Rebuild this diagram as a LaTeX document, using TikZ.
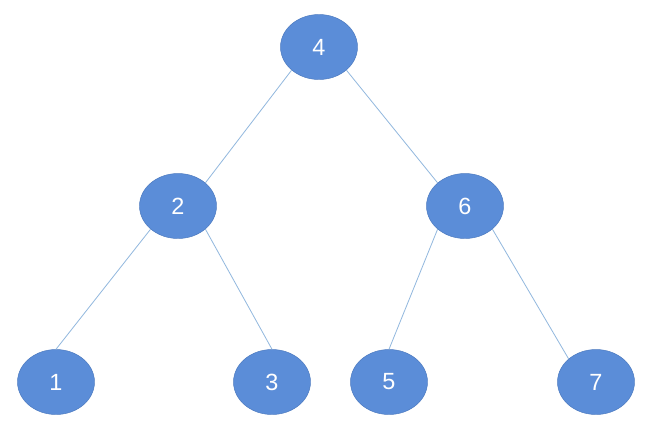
\documentclass[tikz,border=0pt]{standalone}
\usepackage{fontspec}
\setmainfont{Liberation Sans}
\usepackage{tikz}
\usetikzlibrary{shapes.geometric}
\definecolor{nodecolor}{HTML}{5B8DD8}
\definecolor{rimcolor}{HTML}{4A78BE}
\definecolor{edgecolor}{HTML}{93B8DE}

\begin{document}
\begin{tikzpicture}[
    x=0.03cm, y=-0.03cm,
    tnode/.style={ellipse, draw=rimcolor, fill=nodecolor, thin, minimum width=2.31cm, minimum height=1.95cm, inner sep=0pt, font=\fontsize{20}{24}\selectfont, text=white},
    tedge/.style={draw=edgecolor, line width=0.7pt}
]
\useasboundingbox (0,0) rectangle (648,438);

% -- ROOT --
\node[tnode] (n4) at (319,47) {4};

% -- LEVEL 1 --
\node[tnode] (n2) at (178,206) {2};
\node[tnode] (n6) at (465,206) {6};

% -- LEAVES --
\node[tnode] (n1) at (56,382) {1};
\node[tnode] (n3) at (272,382) {3};
\node[tnode] (n5) at (389,382) {5};
\node[tnode] (n7) at (596,382) {7};

% -- EDGES --
\draw[tedge] (n4.south west) -- (n2.north east);
\draw[tedge] (n4.south east) -- (n6.north west);
\draw[tedge] (n2.south west) -- (n1.north);
\draw[tedge] (n2.south east) -- (n3.north);
\draw[tedge] (n6.south west) -- (n5.north);
\draw[tedge] (n6.south east) -- (n7.north west);

\end{tikzpicture}
\end{document}
